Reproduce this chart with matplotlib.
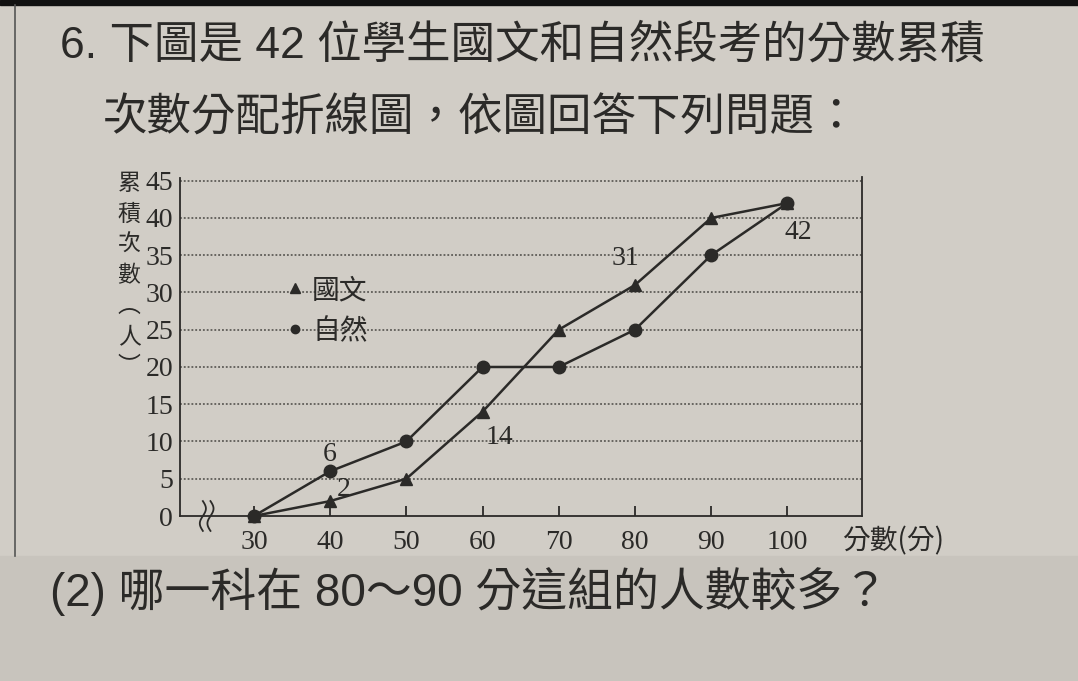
import numpy as np
import matplotlib
matplotlib.use("Agg")
import matplotlib.pyplot as plt
from matplotlib.lines import Line2D
from matplotlib.patches import Rectangle

# ---- data ----
scores = [30, 40, 50, 60, 70, 80, 90, 100]
chinese = [0, 2, 5, 14, 25, 31, 40, 42]     # 國文 (triangle)
science = [0, 6, 10, 20, 20, 25, 35, 42]    # 自然 (circle)
y_ticks = [0, 5, 10, 15, 20, 25, 30, 35, 40, 45]
x_ticks = [30, 40, 50, 60, 70, 80, 90, 100]
# value labels
labels_x = [40, 40, 60, 80, 100]
labels_y = [6, 2, 14, 31, 42]
labels_txt = ["6", "2", "14", "31", "42"]

CJK = ["Liberation Serif", "Noto Sans CJK TC"]
CJKS = ["Liberation Sans", "Noto Sans CJK TC"]
ink = "#2b2a28"
paper = "#d1cdc6"

fig = plt.figure(figsize=(10.78, 6.81), dpi=100, facecolor=paper)

# photo decorations: top dark bar, bottom band, margin line
fig.patches.append(Rectangle((0, 1 - 5/681), 1, 5/681, transform=fig.transFigure,
                             color="#111111", zorder=0))
fig.patches.append(Rectangle((0, 0), 1, 1 - 556/681, transform=fig.transFigure,
                             color="#c8c4bd", zorder=0))
fig.add_artist(Line2D([15/1078, 15/1078], [1 - 556/681, 1 - 5/681],
                      transform=fig.transFigure, color="#555", lw=1.2))

ax = fig.add_axes([180/1078, 1 - 516/681, (862 - 180)/1078, (516 - 177)/681])
ax.set_facecolor("none")
ax.set_xlim(20.3, 109.8)
ax.set_ylim(0, 45.5)

ax.spines["top"].set_visible(False)
for s in ["left", "right", "bottom"]:
    ax.spines[s].set_color(ink)
    ax.spines[s].set_linewidth(1.3)
ax.spines["left"].set_bounds(0, 45.3)

# dotted gridlines
for yv in y_ticks[1:]:
    ax.axhline(yv, color="#4a4844", lw=1.1, ls=(0, (1.2, 1.3)), zorder=1)

ax.set_yticks(y_ticks)
ax.set_yticklabels([str(v) for v in y_ticks], fontsize=20, family=CJK, color=ink)
ax.tick_params(axis="y", length=0, pad=5)
ax.set_xticks(x_ticks)
ax.set_xticklabels([str(v) for v in x_ticks], fontsize=20, family=CJK, color=ink)
ax.tick_params(axis="x", direction="in", length=7, width=1.3, color=ink, pad=10)

ax.plot(scores, chinese, color=ink, lw=1.8, marker="^", ms=8, zorder=3, clip_on=False)
ax.plot(scores, science, color=ink, lw=1.8, marker="o", ms=9, zorder=3, clip_on=False)

# value labels
offsets = [(0, 2.2), (1.8, 1.6), (2.2, -3.5), (-1.3, 3.5), (1.5, -4.0)]
for xv, yv, t, (dx, dy) in zip(labels_x, labels_y, labels_txt, offsets):
    ax.text(xv + dx, yv + dy, t, fontsize=20, family=CJK, color=ink,
            ha="center", va="center", zorder=4)

# axis break symbol
tt = np.linspace(-1, 1, 40)
for bx in [23.3, 24.3]:
    ax.plot(bx + 0.4 * np.sin(tt * np.pi), tt * 2.0, color=ink, lw=1.3,
            clip_on=False, zorder=4)

# legend
handles = [Line2D([], [], color=ink, ls="none", marker="^", ms=7),
           Line2D([], [], color=ink, ls="none", marker="o", ms=6)]
leg = ax.legend(handles, ["國文", "自然"], loc="upper left",
                bbox_to_anchor=(262/1078, 1 - 250/681), bbox_transform=fig.transFigure,
                frameon=False, handlelength=0.6, handletextpad=0.3, labelspacing=0.4,
                prop={"family": "Noto Sans CJK TC", "size": 20})
for t in leg.get_texts():
    t.set_color(ink)

# axis titles
fig.text(129/1078, 1 - 172/681, "累\n積\n次\n數\n︵\n人\n︶", ha="center", va="top",
         fontsize=16.5, family="Noto Sans CJK TC", color=ink, linespacing=1.42)
fig.text(893/1078, 1 - 541/681, "分數(分)", ha="center", va="center",
         fontsize=20, family="Noto Sans CJK TC", color=ink)

# question text
fig.text(60/1078, 1 - 45/681, "6. 下圖是 42 位學生國文和自然段考的分數累積",
         ha="left", va="center", fontsize=32, family=CJKS, color=ink)
fig.text(103/1078, 1 - 118/681, "次數分配折線圖，依圖回答下列問題：",
         ha="left", va="center", fontsize=32, family=CJKS, color=ink)
fig.text(50/1078, 1 - 592/681, "(2) 哪一科在 80～90 分這組的人數較多？",
         ha="left", va="center", fontsize=33, family=CJKS, color=ink)

fig.savefig("out.png", dpi=100, facecolor=fig.get_facecolor())
